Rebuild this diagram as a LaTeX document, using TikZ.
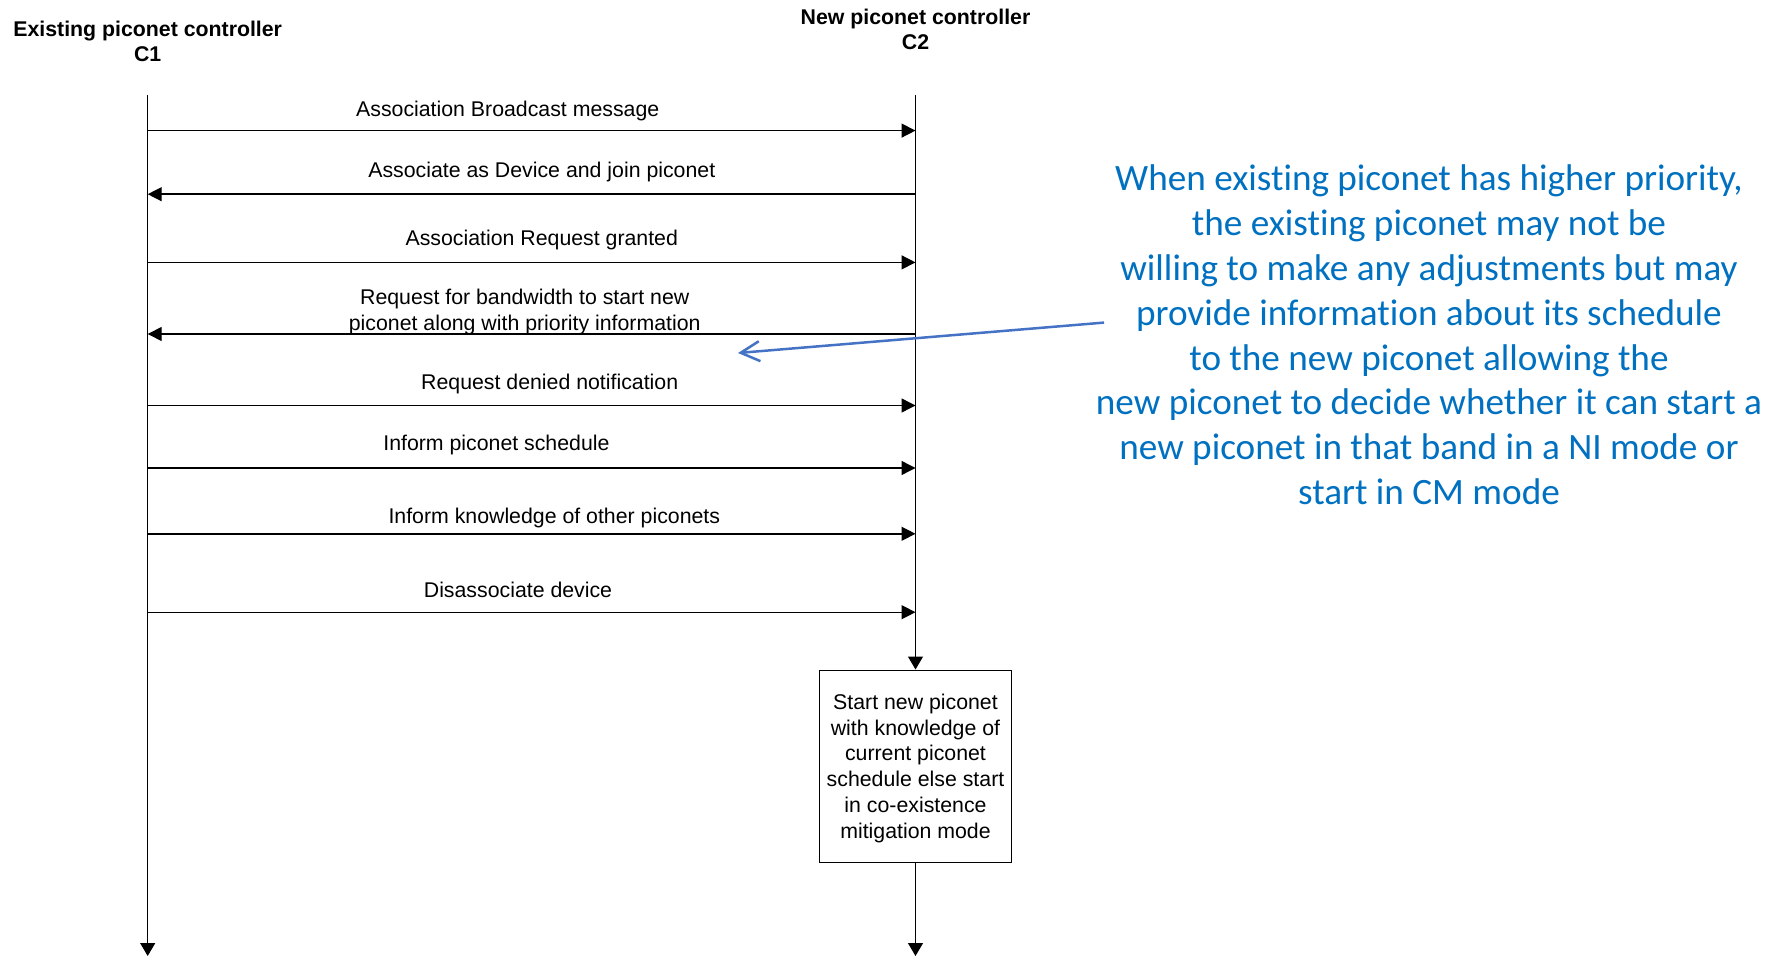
\documentclass[tikz,border=0pt]{standalone}
\usepackage{fontspec}
\setmainfont{Liberation Sans}
\newfontfamily\notefont[Ligatures=NoCommon]{Carlito}
\usetikzlibrary{arrows.meta}
\definecolor{noteblue}{RGB}{0,112,192}
\definecolor{pointerblue}{RGB}{68,114,196}
\begin{document}
\begin{tikzpicture}[x=1pt,y=-1pt,
  txt/.style={font=\fontsize{21.3}{25.8}\selectfont, inner sep=0pt, align=center},
  head/.style={txt, font=\fontsize{21.3}{25}\selectfont\bfseries},
  lifeline/.style={line width=1.3pt, -{Triangle[length=13pt,width=15pt]}},
  msg/.style={line width=1.4pt, -{Triangle[length=14pt,width=14pt]}},
  note/.style={inner sep=0pt, align=center, text=noteblue,
    font=\notefont\fontsize{37.2}{44.8}\selectfont},
  pointer/.style={draw=pointerblue, line width=2.5pt,
    -{Straight Barb[length=19pt,width=20pt,line width=2.5pt]}},
  actionbox/.style={draw, line width=1pt, minimum width=191.7pt, minimum height=192pt, inner sep=0pt}
]
\useasboundingbox (0,0) rectangle (1781,957);

% participants
\node[head] (c1) at (147.7,40.9) {Existing piconet controller\\C1};
\node[head] (c2) at (915.5,29.5) {New piconet controller\\C2};

% lifeline anchor points
\coordinate (c1top) at (147.7,95.4);
\coordinate (c1end) at (147.7,956);
\coordinate (c2top) at (915.5,95.4);
\coordinate (c2end) at (915.5,956);

% local action of the new controller
\node[actionbox] (start) at (915.5,766) {};
\node[txt] (starttext) at (915.5,768.3) {Start new piconet\\with knowledge of\\current piconet\\schedule else start\\in co-existence\\mitigation mode};

\draw[lifeline] (c1top) -- (c1end);
\draw[lifeline] (c2top) -- (start.north);
\draw[lifeline] (start.south) -- (c2end);

% message end points on both lifelines
\foreach \i/\y in {1/130.6,2/194.2,3/262.4,4/334,5/405.5,6/468,7/533.8,8/612.2}{
  \coordinate (a\i) at (147.7,\y);
  \coordinate (b\i) at (915.5,\y);
}

\draw[msg] (a1) -- (b1);
\node[txt] (m1) at (507.7,111.3) {Association Broadcast message};
\draw[msg] (b2) -- (a2);
\node[txt] (m2) at (541.8,171.5) {Associate as Device and join piconet};
\draw[msg] (a3) -- (b3);
\node[txt] (m3) at (541.8,239.7) {Association Request granted};
\draw[msg] (b4) -- (a4);
\node[txt] (m4) at (524.7,311.9) {Request for bandwidth to start new\\piconet along with priority information};
\draw[msg] (a5) -- (b5);
\node[txt] (m5) at (549.7,383.9) {Request denied notification};
\draw[msg] (a6) -- (b6);
\node[txt] (m6) at (496.4,445.3) {Inform piconet schedule};
\draw[msg] (a7) -- (b7);
\node[txt] (m7) at (554.3,518) {Inform knowledge of other piconets};
\draw[msg] (a8) -- (b8);
\node[txt] (m8) at (518,589.5) {Disassociate device};

% annotation
\node[note] (remark) at (1429,335) {When existing piconet has higher priority,\\the existing piconet may not be\\willing to make any adjustments but may\\provide information about its schedule\\to the new piconet allowing the\\new piconet to decide whether it can start a\\new piconet in that band in a NI mode or\\start in CM mode};
\coordinate (ptail) at (1104,322.6);
\coordinate (phead) at (738,353);
\draw[pointer] (ptail) -- (phead);
\end{tikzpicture}
\end{document}
